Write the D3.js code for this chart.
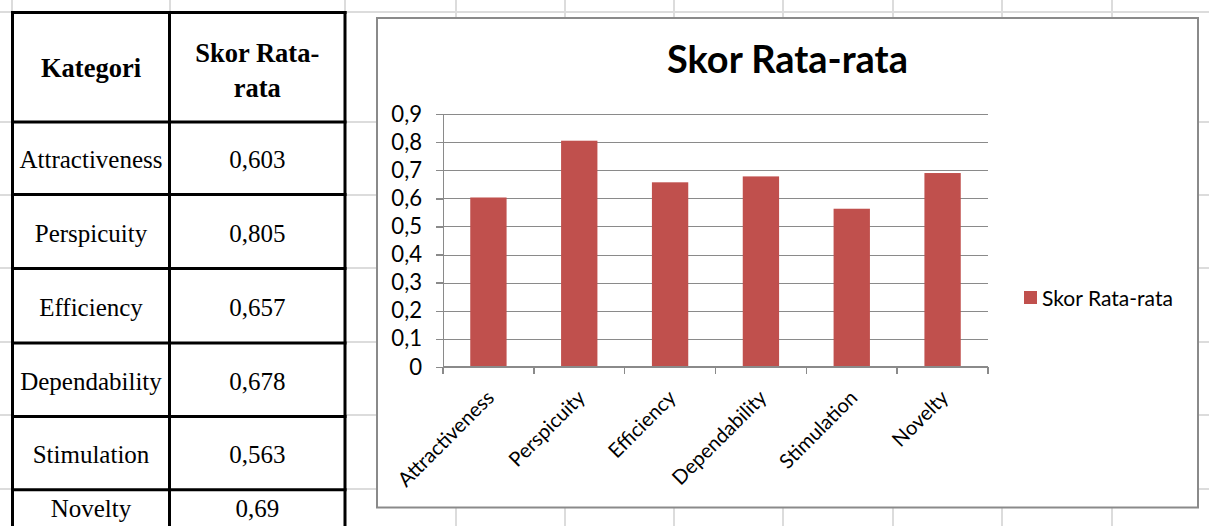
<!DOCTYPE html>
<html lang="id">
<head>
    <meta charset="UTF-8">
    <title>Skor Rata-rata</title>
    <script src="https://d3js.org/d3.v7.min.js"></script>
    <style>
        html, body { margin: 0; padding: 0; background: #fff; }
        svg { display: block; }
        .sheet-grid line { stroke: #dcdcdc; stroke-width: 2px; }
        .tbl line { stroke: #000; stroke-width: 3px; }
        .tbl text { font-family: "Liberation Serif", "Times New Roman", serif; fill: #000; }
        .chart text { font-family: Lato, "Open Sans", sans-serif; fill: #000; }
        .chart .axis path, .chart .axis line, .chart .grid line { stroke: #8a8a8a; stroke-width: 1.5px; shape-rendering: crispEdges; }
    </style>
</head>
<body>
<svg id="sheet" width="1209" height="526"></svg>
<script>
    // data
    const categories = ["Attractiveness", "Perspicuity", "Efficiency", "Dependability", "Stimulation", "Novelty"];
    const scores = [0.603, 0.805, 0.657, 0.678, 0.563, 0.69];
    const yTickValues = [0, 0.1, 0.2, 0.3, 0.4, 0.5, 0.6, 0.7, 0.8, 0.9];
    const seriesName = "Skor Rata-rata";
    const headerCols = ["Kategori", ["Skor Rata-", "rata"]];

    // indonesian number format: comma as decimal sign
    const locale = d3.formatLocale({ decimal: ",", thousands: ".", grouping: [3], currency: ["Rp", ""] });
    const fmtTable = locale.format(".3~f");
    const fmtTick = locale.format(".1~f");

    const svg = d3.select("#sheet");

    // excel cell grid in the background
    const colLines = [12, 170, 345, 456, 565, 674, 783, 893, 1002, 1112];
    const rowLines = [12, 122, 195, 268, 342, 415, 489];
    const grid = svg.append("g").attr("class", "sheet-grid");
    grid.selectAll(".v").data(colLines).join("line")
        .attr("x1", d => d).attr("x2", d => d).attr("y1", 0).attr("y2", 526);
    grid.selectAll(".h").data(rowLines).join("line")
        .attr("x1", 0).attr("x2", 1209).attr("y1", d => d).attr("y2", d => d);

    // ---------- table on the left ----------
    const tbl = svg.append("g").attr("class", "tbl");
    const colX = [12.5, 169.5, 345];
    const rowTops = [12.5, 122, 194.5, 268.5, 343, 416.5, 489.7];
    const lastRowBottom = 524;

    tbl.append("rect").attr("x", colX[0]).attr("y", rowTops[0])
        .attr("width", colX[2] - colX[0]).attr("height", 526 - rowTops[0]).attr("fill", "#fff");
    tbl.selectAll(".vl").data(colX).join("line")
        .attr("x1", d => d).attr("x2", d => d).attr("y1", rowTops[0] - 1.5).attr("y2", 526);
    tbl.selectAll(".hl").data(rowTops).join("line")
        .attr("x1", colX[0] - 1.5).attr("x2", colX[2] + 1.5).attr("y1", d => d).attr("y2", d => d);

    const c1 = (colX[0] + colX[1]) / 2, c2 = (colX[1] + colX[2]) / 2;

    tbl.append("text").attr("x", c1).attr("y", 77)
        .attr("text-anchor", "middle").attr("font-weight", "bold").attr("font-size", 26.5)
        .text(headerCols[0]);
    tbl.selectAll(".hdr2").data(headerCols[1]).join("text")
        .attr("x", c2).attr("y", (d, i) => 62 + i * 35)
        .attr("text-anchor", "middle").attr("font-weight", "bold").attr("font-size", 26.5)
        .text(d => d);

    const rowMid = i => {
        const top = rowTops[i + 1];
        const bottom = i + 2 < rowTops.length ? rowTops[i + 2] : lastRowBottom;
        return (top + bottom) / 2 + 10;
    };
    tbl.selectAll(".cat").data(categories).join("text")
        .attr("x", c1).attr("y", (d, i) => rowMid(i))
        .attr("text-anchor", "middle").attr("font-size", 25)
        .text(d => d);
    tbl.selectAll(".val").data(scores).join("text")
        .attr("x", c2).attr("y", (d, i) => rowMid(i))
        .attr("text-anchor", "middle").attr("font-size", 25)
        .text(d => fmtTable(d));

    // ---------- chart on the right ----------
    const chart = svg.append("g").attr("class", "chart");
    chart.append("rect")
        .attr("x", 377).attr("y", 18).attr("width", 821).attr("height", 489.5)
        .attr("fill", "#fff").attr("stroke", "#8a8a8a").attr("stroke-width", 2);

    const plot = { left: 443, right: 988, top: 114, bottom: 367 };

    const x = d3.scaleBand().domain(categories)
        .range([plot.left, plot.right]).paddingInner(0.6).paddingOuter(0.3);
    const y = d3.scaleLinear().domain([0, 0.9]).range([plot.bottom, plot.top]);

    // font sizes are fitted so text widths match the Calibri text in the picture
    function fitSize(sel, base, target) {
        const w = sel.node().getComputedTextLength();
        return base * target / w;
    }
    const probe = chart.append("text").attr("font-size", 20).text(categories[0]);
    const labelSize = fitSize(probe, 20, 126);
    probe.remove();

    // horizontal gridlines
    chart.append("g").attr("class", "grid")
        .selectAll("line").data(yTickValues.slice(1)).join("line")
        .attr("x1", plot.left).attr("x2", plot.right)
        .attr("y1", d => Math.round(y(d)) + 0.5).attr("y2", d => Math.round(y(d)) + 0.5);

    // bars
    chart.append("g").selectAll("rect").data(categories).join("rect")
        .attr("x", d => x(d))
        .attr("width", x.bandwidth())
        .attr("y", (d, i) => y(scores[i]))
        .attr("height", (d, i) => y(0) - y(scores[i]))
        .attr("fill", "#c0504d");

    // y axis
    const yAxis = chart.append("g").attr("class", "axis")
        .attr("transform", `translate(${plot.left},0)`)
        .call(d3.axisLeft(y).tickValues(yTickValues).tickFormat(fmtTick).tickSize(7).tickSizeOuter(0).tickPadding(14));
    yAxis.selectAll("text").attr("font-size", labelSize * 1.1).attr("font-family", "Lato, sans-serif").attr("fill", "#000");

    // x axis: ticks sit on the category boundaries, like excel does
    const step = x.step();
    const bounds = d3.range(categories.length + 1).map(i => plot.left + i * step);
    const xAxis = chart.append("g").attr("class", "axis");
    xAxis.append("line")
        .attr("x1", plot.left).attr("x2", plot.right)
        .attr("y1", plot.bottom).attr("y2", plot.bottom);
    xAxis.selectAll(".tk").data(bounds).join("line")
        .attr("x1", d => d).attr("x2", d => d)
        .attr("y1", plot.bottom).attr("y2", plot.bottom + 7);

    chart.append("g").selectAll("text").data(categories).join("text")
        .attr("text-anchor", "end")
        .attr("font-size", labelSize)
        .attr("transform", d => `translate(${x(d) + x.bandwidth() / 2 + 7},${plot.bottom + 32}) rotate(-45)`)
        .text(d => d);

    // title
    const title = chart.append("text")
        .attr("x", 787.5).attr("y", 72.5)
        .attr("text-anchor", "middle").attr("font-weight", "bold").attr("font-size", 40)
        .text(seriesName);
    title.attr("font-size", fitSize(title, 40, 241));

    // legend
    const legend = chart.append("g").attr("transform", "translate(1024,291)");
    legend.append("rect").attr("width", 13).attr("height", 13).attr("fill", "#c0504d");
    const legendText = legend.append("text").attr("x", 18).attr("y", 15)
        .attr("font-size", labelSize).text(seriesName);
    legendText.attr("font-size", fitSize(legendText, labelSize, 131));
</script>
</body>
</html>
